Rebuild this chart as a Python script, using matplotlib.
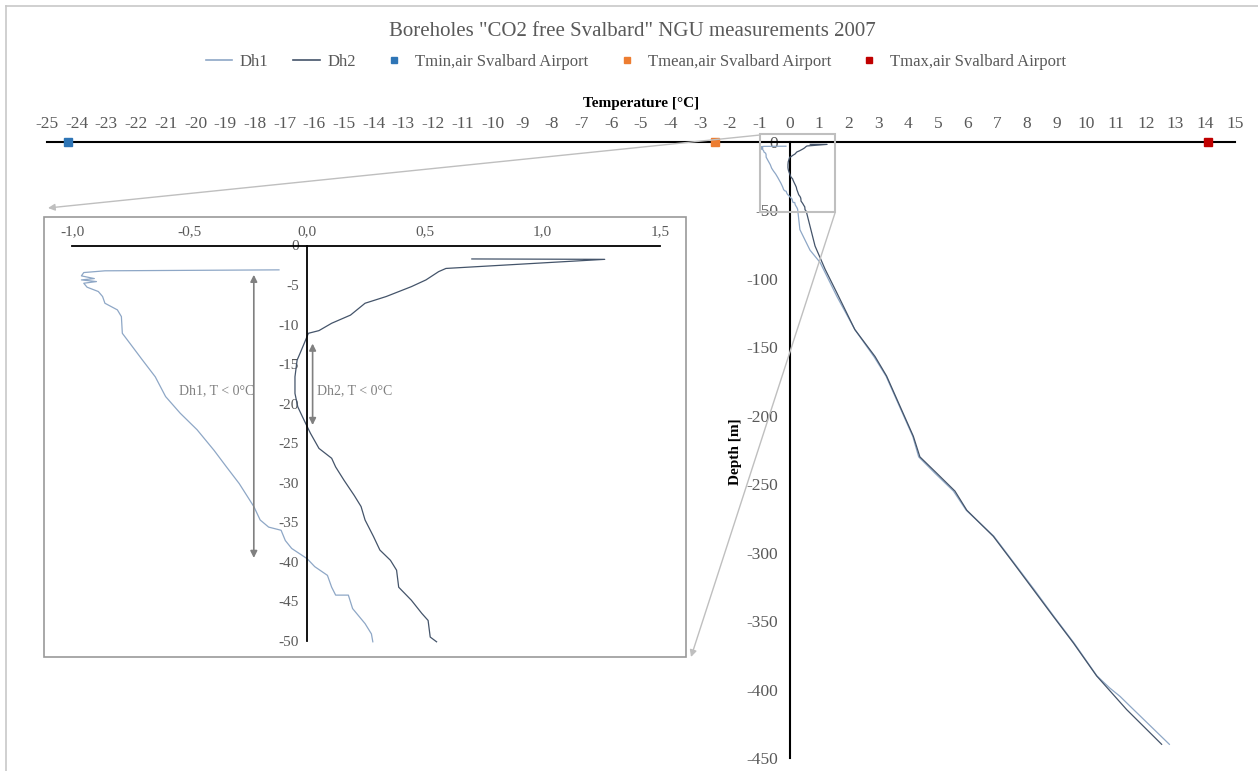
import numpy as np
import matplotlib
matplotlib.use('Agg')
import matplotlib.pyplot as plt
from matplotlib.patches import Rectangle, FancyArrowPatch
from matplotlib.lines import Line2D
from matplotlib.ticker import FuncFormatter

plt.rcParams['font.family'] = ['Liberation Serif', 'DejaVu Serif']
plt.rcParams['axes.unicode_minus'] = False

# ---- data ----
# shallow part (0 to -50 m), also shown in the inset
dh1_top_t = [-0.12, -0.86, -0.95, -0.96, -0.905, -0.96, -0.896, -0.95, -0.936, -0.888, -0.87, -0.86,
             -0.807, -0.79, -0.786, -0.754, -0.70, -0.646, -0.602, -0.54, -0.468, -0.396, -0.343,
             -0.289, -0.227, -0.20, -0.164, -0.111, -0.093, -0.066, 0.0, 0.032, 0.086, 0.104, 0.121,
             0.175, 0.193, 0.246, 0.273, 0.279]
dh1_top_z = [-3.08, -3.2, -3.42, -3.84, -4.18, -4.35, -4.56, -4.77, -5.27, -5.82, -6.45, -7.3,
             -8.14, -8.99, -11.1, -12.36, -14.5, -16.6, -19.1, -21.2, -23.3, -25.9, -28.0,
             -30.1, -33.0, -34.7, -35.6, -36.0, -37.3, -38.3, -39.6, -40.6, -41.7, -43.2, -44.2,
             -44.2, -45.9, -47.8, -49.1, -50.1]
dh2_top_t = [0.70, 1.265, 0.59, 0.559, 0.505, 0.443, 0.336, 0.246, 0.184, 0.104, 0.05, 0.005,
             -0.0125, -0.03, -0.043, -0.052, -0.052, -0.04, -0.021, 0.0, 0.014, 0.05, 0.104,
             0.121, 0.157, 0.20, 0.229, 0.246, 0.282, 0.309, 0.354, 0.38, 0.389, 0.443, 0.487,
             0.514, 0.523, 0.55]
dh2_top_z = [-1.7, -1.75, -2.9, -3.3, -4.35, -5.2, -6.45, -7.3, -8.8, -9.83, -10.76, -11.1,
             -12.36, -13.6, -14.5, -16.6, -18.7, -20.4, -21.6, -22.9, -23.75, -25.65, -26.9,
             -28.0, -29.7, -31.6, -33.0, -34.7, -36.8, -38.5, -39.8, -41.05, -43.2, -44.85, -46.5,
             -47.4, -49.5, -50.1]

# deeper part (-50 to -440 m)
dh1_deep_t = [0.35, 0.69, 1.03, 1.6, 2.2, 2.85, 3.25, 3.7, 4.15, 4.35, 4.9, 5.52, 5.95, 6.88,
              7.56, 8.24, 8.9, 9.58, 10.35, 10.79, 11.13, 11.46, 12.79]
dh1_deep_z = [-64, -79, -88, -113, -137, -157, -171, -193, -215, -230, -242, -255, -269, -288,
              -307.5, -327, -346.5, -366, -390, -399, -405, -412, -440]
dh2_deep_t = [0.58, 0.86, 1.2, 1.59, 2.2, 2.88, 3.27, 3.72, 4.17, 4.39, 4.96, 5.57, 5.97, 6.86,
              7.54, 8.21, 8.88, 9.56, 10.34, 11.35, 12.53]
dh2_deep_z = [-52, -76, -93, -110, -137, -156.7, -171, -193, -215, -230, -242, -255, -269, -288,
              -307.5, -327, -346.5, -366, -390, -414.6, -440]

tmin_air = -24.3
tmean_air = -2.5
tmax_air = 14.1

main_xticks = list(range(-25, 16))
main_yticks = list(range(0, -451, -50))
inset_xticks = [-1.0, -0.5, 0.0, 0.5, 1.0, 1.5]
inset_yticks = list(range(0, -51, -5))

dh1_t = dh1_top_t + dh1_deep_t
dh1_z = dh1_top_z + dh1_deep_z
dh2_t = dh2_top_t + dh2_deep_t
dh2_z = dh2_top_z + dh2_deep_z

c_dh1 = '#8EA7C6'
c_dh2 = '#44546A'
c_tmin = '#2E75B6'
c_tmean = '#ED7D31'
c_tmax = '#C00000'
c_text = '#595959'

W, H = 1258, 771
def fx(px):
    return px / W
def fy(py):
    return 1 - py / H

fig = plt.figure(figsize=(12.58, 7.71), dpi=100)

# ---- main axes ----
ax = fig.add_axes([fx(47), fy(758), fx(1235) - fx(47), fy(142) - fy(758)])
ax.set_xlim(-25, 15)
ax.set_ylim(-450, 0)
ax.patch.set_visible(False)
for s in ['right', 'bottom']:
    ax.spines[s].set_visible(False)
ax.spines['left'].set_position(('data', 0))
for s in ['top', 'left']:
    ax.spines[s].set_color('black')
    ax.spines[s].set_linewidth(1.5)
ax.xaxis.set_ticks_position('top')
ax.set_xticks(main_xticks)
ax.set_yticks(main_yticks)
ax.tick_params(axis='x', length=0, pad=7, labelsize=12.5, labelcolor=c_text)
ax.tick_params(axis='y', length=0, pad=8, labelsize=12.5, labelcolor=c_text)

ax.plot(dh1_t, dh1_z, color=c_dh1, lw=0.9, clip_on=False, zorder=3)
ax.plot(dh2_t, dh2_z, color=c_dh2, lw=0.9, clip_on=False, zorder=3)
ax.plot([tmin_air], [0], 's', color=c_tmin, ms=6, clip_on=False, zorder=5)
ax.plot([tmean_air], [0], 's', color=c_tmean, ms=6, clip_on=False, zorder=5)
ax.plot([tmax_air], [0], 's', color=c_tmax, ms=6, clip_on=False, zorder=5)
ax.add_patch(Rectangle((-0.98, -51.3), 2.52, 57.5, fill=False, ec='#BFBFBF', lw=1.5,
                       clip_on=False, zorder=4))

fig.text(fx(641), fy(103), 'Temperature [°C]', ha='center', va='center',
         fontsize=11, fontweight='bold', color='black')
fig.text(fx(735), fy(452), 'Depth [m]', ha='center', va='center', rotation=90,
         fontsize=11, fontweight='bold', color='black')

# ---- connector arrows to the inset ----
fig.add_artist(FancyArrowPatch((fx(760), fy(135)), (fx(48), fy(208)), transform=fig.transFigure,
                               arrowstyle='-|>', mutation_scale=10, color='#BFBFBF', lw=1,
                               shrinkA=0, shrinkB=0))
fig.add_artist(FancyArrowPatch((fx(835), fy(213)), (fx(691), fy(657)), transform=fig.transFigure,
                               arrowstyle='-|>', mutation_scale=10, color='#BFBFBF', lw=1,
                               shrinkA=0, shrinkB=0))

# ---- inset box and axes ----
fig.patches.append(Rectangle((fx(44), fy(657)), fx(686) - fx(44), fy(217) - fy(657),
                             transform=fig.transFigure, fc='white', ec='#999999', lw=1.2, zorder=1))

ax2 = fig.add_axes([fx(72), fy(641), fx(660) - fx(72), fy(245.5) - fy(641)])
ax2.set_zorder(2)
ax2.patch.set_visible(False)
ax2.set_xlim(-1, 1.5)
ax2.set_ylim(-50, 0)
for s in ['right', 'bottom']:
    ax2.spines[s].set_visible(False)
ax2.spines['left'].set_position(('data', 0))
for s in ['top', 'left']:
    ax2.spines[s].set_color('black')
    ax2.spines[s].set_linewidth(1.3)
ax2.xaxis.set_ticks_position('top')
ax2.set_xticks(inset_xticks)
ax2.set_yticks(inset_yticks)
ax2.xaxis.set_major_formatter(FuncFormatter(lambda v, p: ('%.1f' % v).replace('.', ',')))
ax2.tick_params(axis='x', length=0, pad=5, labelsize=11, labelcolor=c_text)
ax2.tick_params(axis='y', length=0, pad=6, labelsize=11, labelcolor=c_text)

ax2.plot(dh1_top_t, dh1_top_z, color=c_dh1, lw=0.9, clip_on=False)
ax2.plot(dh2_top_t, dh2_top_z, color=c_dh2, lw=0.9, clip_on=False)

ax2.annotate('', xy=(-0.227, -3.7), xytext=(-0.227, -39.5),
             arrowprops=dict(arrowstyle='<|-|>', color='#808080', lw=1.2, mutation_scale=10,
                             shrinkA=0, shrinkB=0))
ax2.text(-0.225, -18.4, 'Dh1, T < 0°C', ha='right', va='center', color='#808080', fontsize=10)
ax2.annotate('', xy=(0.023, -12.4), xytext=(0.023, -22.7),
             arrowprops=dict(arrowstyle='<|-|>', color='#808080', lw=1.2, mutation_scale=10,
                             shrinkA=0, shrinkB=0))
ax2.text(0.042, -18.4, 'Dh2, T < 0°C', ha='left', va='center', color='#808080', fontsize=10)

# ---- title, legend, border ----
fig.text(fx(632), fy(31), 'Boreholes "CO2 free Svalbard" NGU measurements 2007', ha='center',
         va='center', fontsize=15, color=c_text)

handles = [Line2D([], [], color=c_dh1, lw=1.2, label='Dh1'),
           Line2D([], [], color=c_dh2, lw=1.2, label='Dh2'),
           Line2D([], [], ls='none', marker='s', ms=5, color=c_tmin, label='Tmin,air Svalbard Airport'),
           Line2D([], [], ls='none', marker='s', ms=5, color=c_tmean, label='Tmean,air Svalbard Airport'),
           Line2D([], [], ls='none', marker='s', ms=5, color=c_tmax, label='Tmax,air Svalbard Airport')]
fig.legend(handles=handles, loc='center', bbox_to_anchor=(fx(636), fy(62)), ncol=5, frameon=False,
           fontsize=12, labelcolor=c_text, handlelength=1.6, handletextpad=0.45, columnspacing=1.5)

fig.add_artist(Line2D([fx(6), 1], [fy(6), fy(6)], transform=fig.transFigure, color='#C8C8C8', lw=1.2))
fig.add_artist(Line2D([fx(6), fx(6)], [0, fy(6)], transform=fig.transFigure, color='#C8C8C8', lw=1.2))

fig.savefig('out.png', dpi=100)
